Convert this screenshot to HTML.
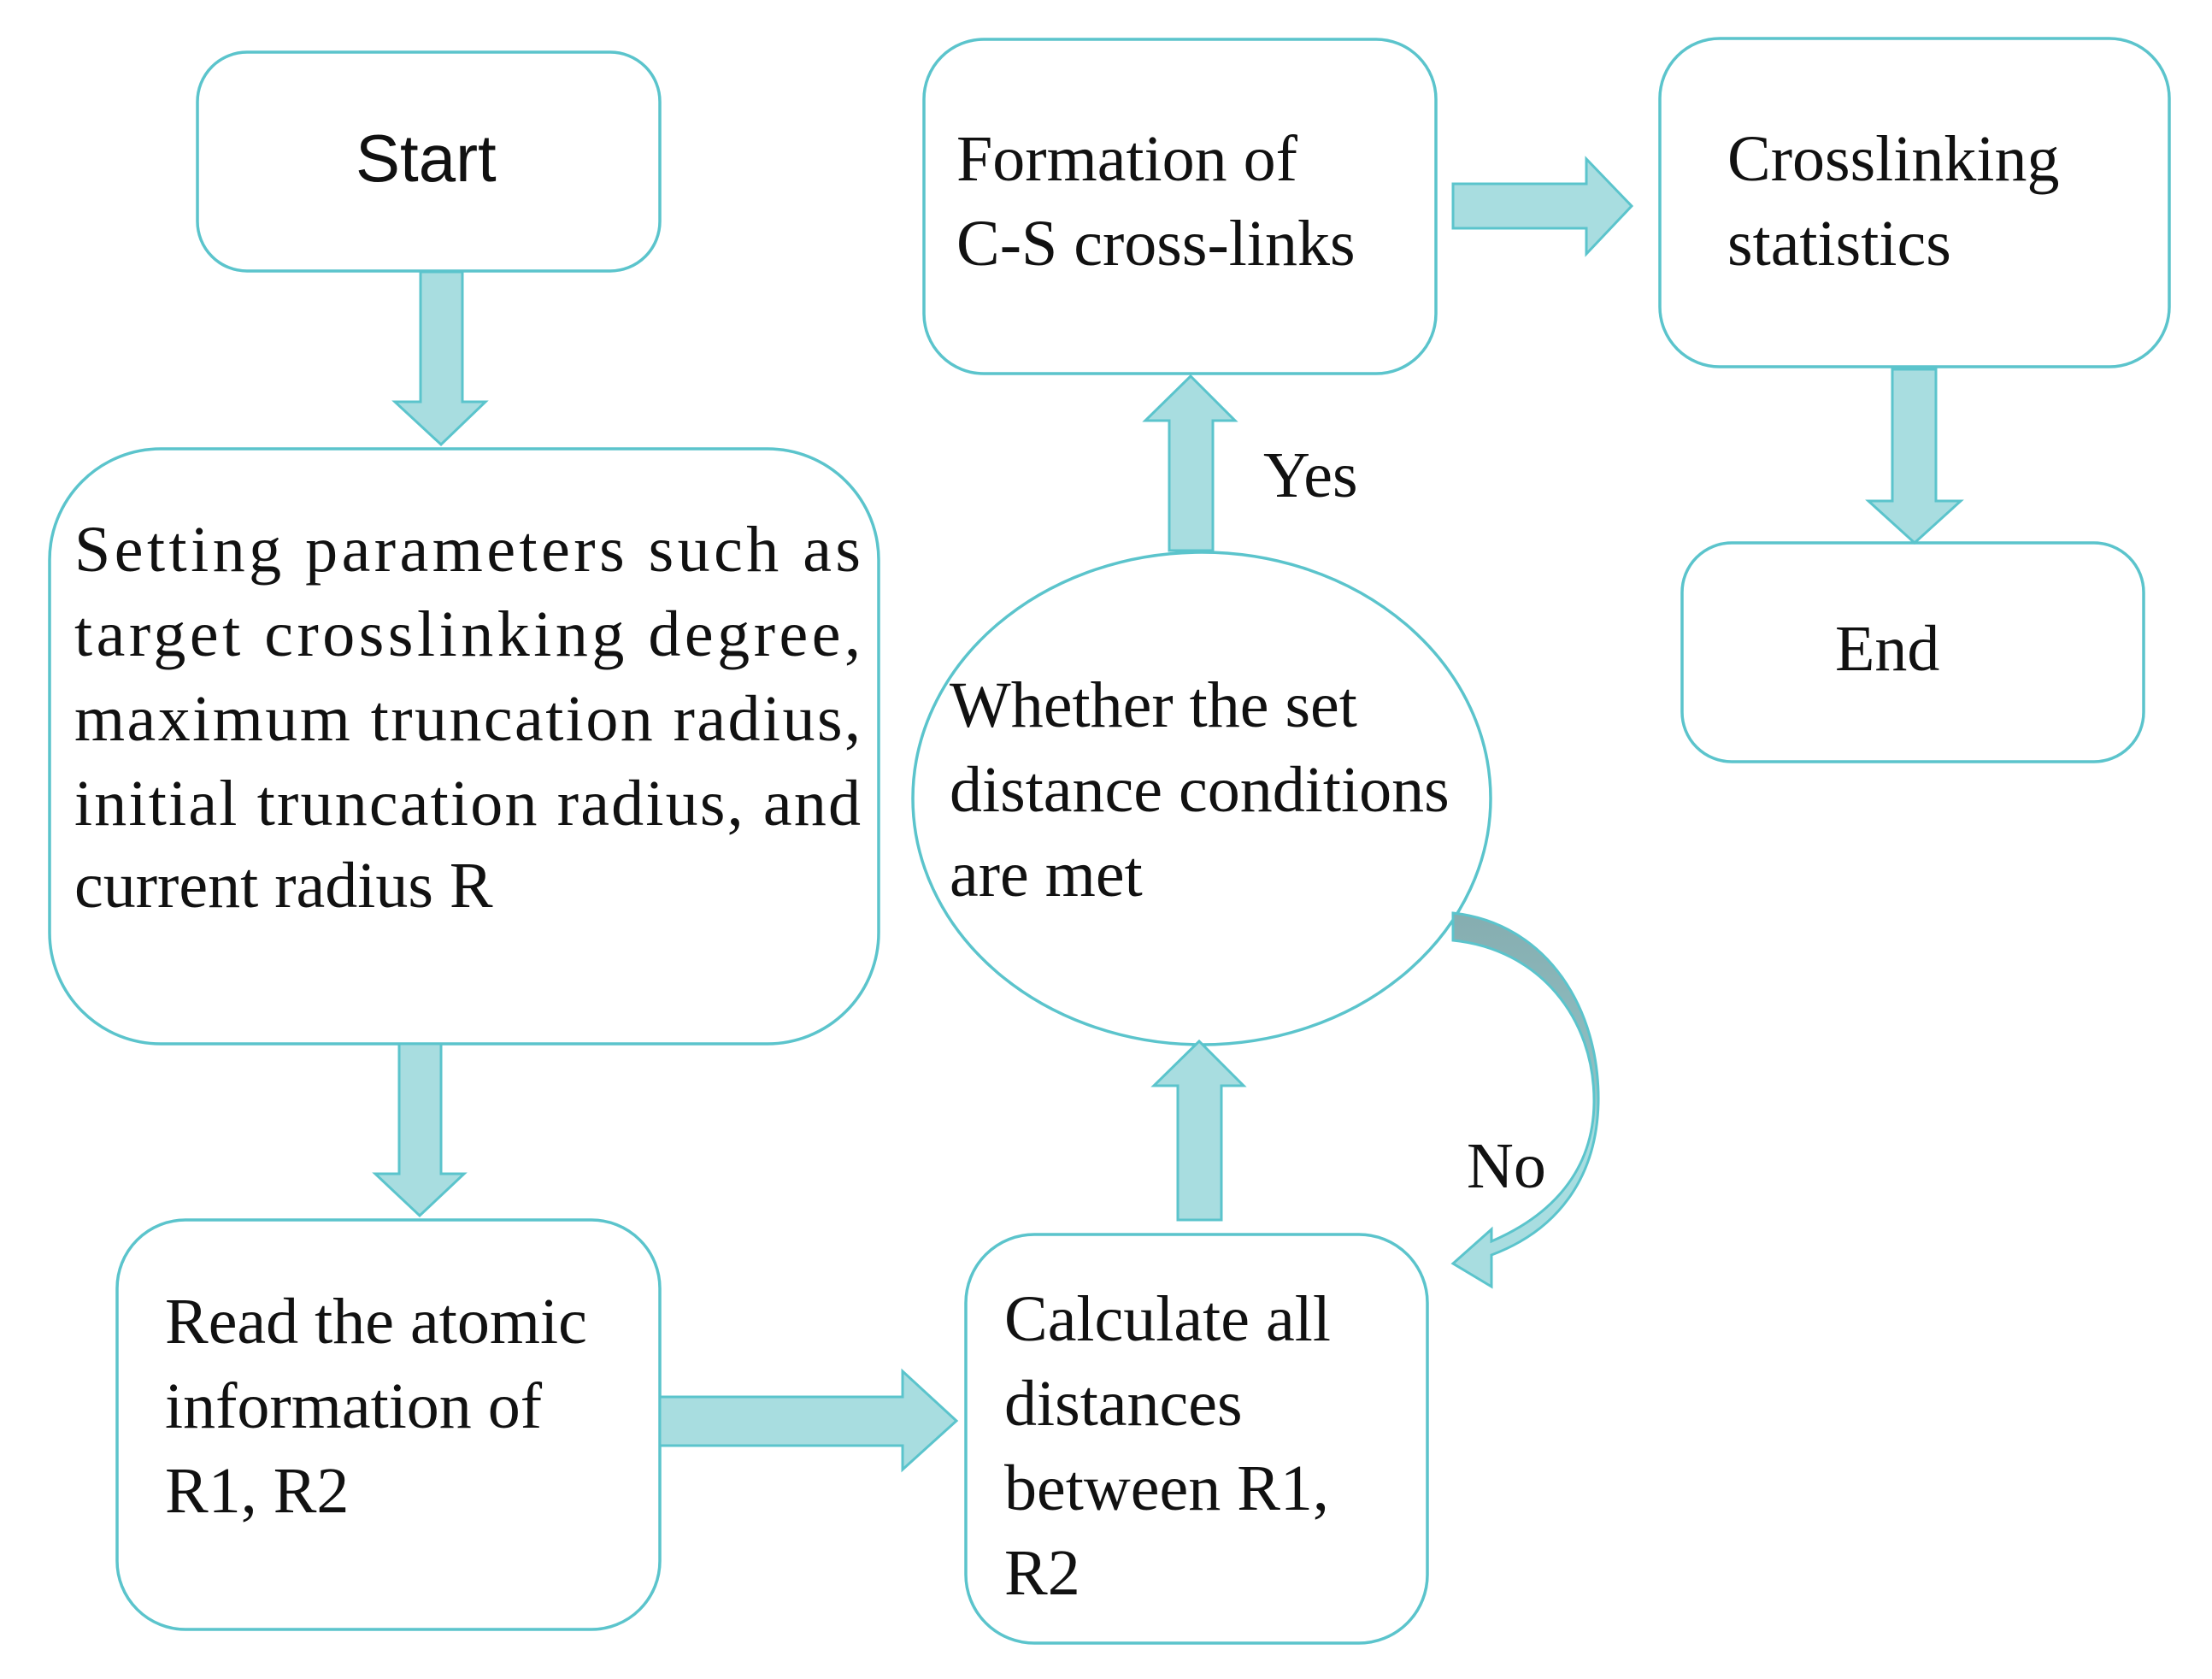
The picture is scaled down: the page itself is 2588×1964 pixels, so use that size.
<!DOCTYPE html>
<html><head><meta charset="utf-8"><style>
html,body{margin:0;padding:0;background:#fff;}
svg{display:block;}
.t{font-family:"Liberation Serif",serif;font-size:76px;fill:#111;}
</style></head><body>
<svg width="2588" height="1964" viewBox="0 0 2588 1964" xmlns="http://www.w3.org/2000/svg">
<defs>
<linearGradient id="g" x1="0" y1="0" x2="0" y2="1">
<stop offset="0" stop-color="#86adb0"/><stop offset="0.45" stop-color="#8fbfc2"/><stop offset="0.6" stop-color="#a8dde0"/><stop offset="1" stop-color="#a8dde0"/>
</linearGradient>
</defs>
<g fill="#fff" stroke="#5bc4cc" stroke-width="3.5">
<rect x="231" y="61" width="541" height="256" rx="58"/>
<rect x="58" y="525" width="970" height="696" rx="130"/>
<rect x="137" y="1427" width="635" height="479" rx="80"/>
<rect x="1130" y="1444" width="540" height="478" rx="80"/>
<rect x="1081" y="46" width="599" height="391" rx="70"/>
<rect x="1942" y="45" width="596" height="384" rx="70"/>
<rect x="1968" y="635" width="540" height="256" rx="58"/>
<ellipse cx="1406" cy="934" rx="338" ry="288"/>
</g>
<g fill="#a8dde0" stroke="#5bc4cc" stroke-width="3">
<!-- Start -> Setting -->
<path d="M492 318 H541 V470 H568 L516 520 L462 470 H492 Z"/>
<!-- Setting -> Read -->
<path d="M467 1221 H516 V1373 H543 L491 1422 L439 1373 H467 Z"/>
<!-- Read -> Calc -->
<path d="M772 1634 V1691 H1056 V1719 L1119 1662 L1056 1604 V1634 Z"/>
<!-- Calc -> ellipse -->
<path d="M1378 1427 V1270 H1350 L1403 1218 L1455 1270 H1429 V1427 Z"/>
<!-- ellipse -> Formation -->
<path d="M1368 644 V492 H1340 L1393 440 L1445 492 H1419 V644 Z"/>
<!-- Formation -> Stats -->
<path d="M1700 215 V267 H1856 V297 L1909 241 L1856 186 V215 Z"/>
<!-- Stats -> End -->
<path d="M2214 432 H2265 V586 H2294 L2240 635 L2186 586 H2214 Z"/>
</g>
<path d="M1700 1068 C1810 1080 1872 1180 1870 1290 C1868 1380 1820 1440 1745 1468 L1745 1505 L1700 1478 L1745 1438 L1745 1452 C1815 1422 1864 1370 1865 1290 C1866 1190 1800 1110 1700 1100 Z" fill="url(#g)" stroke="#5bc4cc" stroke-width="3"/>

<text x="416" y="212" font-family="Liberation Sans, sans-serif" font-size="78" fill="#111">Start</text>

<text class="t" x="87" y="668" textLength="920" lengthAdjust="spacing">Setting parameters such as</text>
<text class="t" x="87" y="767" textLength="920" lengthAdjust="spacing">target crosslinking degree,</text>
<text class="t" x="87" y="866" textLength="920" lengthAdjust="spacing">maximum truncation radius,</text>
<text class="t" x="87" y="965" textLength="920" lengthAdjust="spacing">initial truncation radius, and</text>
<text class="t" x="87" y="1061">current radius R</text>

<text class="t" x="1119" y="211">Formation of</text>
<text class="t" x="1119" y="310">C-S cross-links</text>

<text class="t" x="2021" y="211">Crosslinking</text>
<text class="t" x="2021" y="310">statistics</text>

<text class="t" x="2147" y="784">End</text>

<text class="t" x="1111" y="850">Whether the set</text>
<text class="t" x="1111" y="949">distance conditions</text>
<text class="t" x="1111" y="1048">are met</text>

<text class="t" x="193" y="1571">Read the atomic</text>
<text class="t" x="193" y="1670">information of</text>
<text class="t" x="193" y="1769">R1, R2</text>

<text class="t" x="1175" y="1568">Calculate all</text>
<text class="t" x="1175" y="1667">distances</text>
<text class="t" x="1175" y="1766">between R1,</text>
<text class="t" x="1175" y="1865">R2</text>

<text class="t" x="1478" y="581">Yes</text>
<text class="t" x="1716" y="1389">No</text>
</svg>
</body></html>
